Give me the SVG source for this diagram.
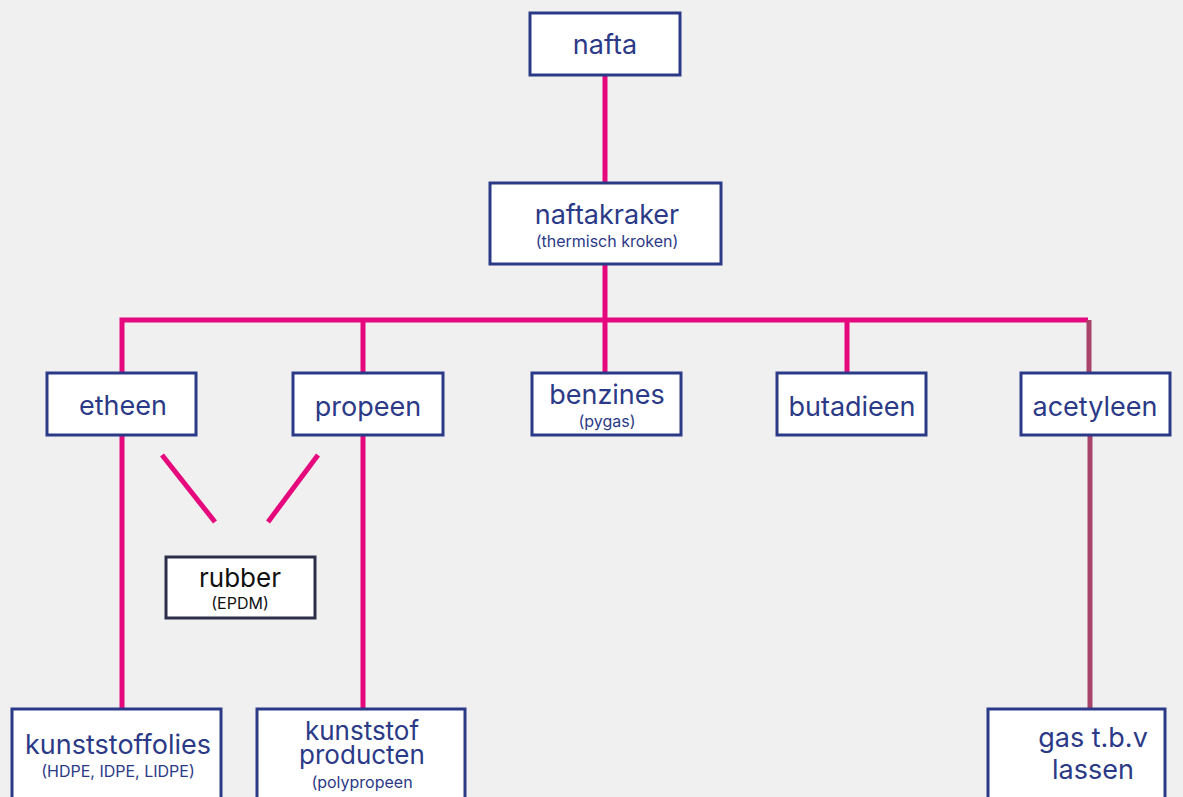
<svg xmlns="http://www.w3.org/2000/svg" width="1183" height="797" viewBox="0 0 1183 797">
<style>
.bx{fill:#fff;stroke:#2b3a87;stroke-width:3}
.bk{fill:#fff;stroke:#2c2e4a;stroke-width:3}
.t{font-family:Inter,"Liberation Sans",sans-serif;fill:#2b3a87;text-anchor:middle;font-size:27px}
.s{font-family:Inter,"Liberation Sans",sans-serif;fill:#2b3a87;text-anchor:middle;font-size:16px}
.p{stroke:#e6097e;stroke-width:5;fill:none}
.m{stroke:#a8446c;stroke-width:5;fill:none}
</style>
<rect width="1183" height="797" fill="#f0f0f0"/>
<g id="connectors">
<line class="p" x1="605" y1="75" x2="605" y2="183"/>
<line class="p" x1="605" y1="264" x2="605" y2="373"/>
<polyline class="p" points="122,373 122,320 1088,320"/>
<line class="p" x1="363" y1="320" x2="363" y2="373"/>
<line class="p" x1="847" y1="320" x2="847" y2="373"/>
<line class="m" x1="1089" y1="320" x2="1089" y2="373"/>
<line class="p" x1="122" y1="435" x2="122" y2="709"/>
<line class="p" x1="363" y1="435" x2="363" y2="709"/>
<line class="m" x1="1090" y1="435" x2="1090" y2="709"/>
<line class="p" x1="162" y1="455" x2="215" y2="522"/>
<line class="p" x1="318" y1="455" x2="268" y2="522"/>
</g>
<g id="nafta"><rect class="bx" x="530" y="13" width="150" height="62"/><text class="t" x="605" y="54">nafta</text></g>
<g id="naftakraker"><rect class="bx" x="490" y="183" width="231" height="81"/><text class="t" x="607" y="224">naftakraker</text><text class="s" x="607" y="247">(thermisch kroken)</text></g>
<g id="etheen"><rect class="bx" x="47" y="373" width="149" height="62"/><text class="t" x="123" y="415">etheen</text></g>
<g id="propeen"><rect class="bx" x="293" y="373" width="150" height="62"/><text class="t" x="368" y="416">propeen</text></g>
<g id="benzines"><rect class="bx" x="532" y="373" width="149" height="62"/><text class="t" x="607" y="404">benzines</text><text class="s" x="607" y="427">(pygas)</text></g>
<g id="butadieen"><rect class="bx" x="777" y="373" width="149" height="62"/><text class="t" x="852" y="416">butadieen</text></g>
<g id="acetyleen"><rect class="bx" x="1021" y="373" width="149" height="62"/><text class="t" x="1095" y="416">acetyleen</text></g>
<g id="rubber"><rect class="bk" x="166" y="557" width="149" height="61"/><text class="t" x="240" y="587" style="fill:#111;font-size:26px">rubber</text><text class="s" x="240" y="609" style="fill:#111">(EPDM)</text></g>
<g id="kunststoffolies"><rect class="bx" x="12" y="709" width="209" height="100"/><text class="t" x="118" y="754">kunststoffolies</text><text class="s" x="118" y="777">(HDPE, IDPE, LIDPE)</text></g>
<g id="kunststofproducten"><rect class="bx" x="257" y="709" width="208" height="100"/><text class="t" x="362" y="740" style="font-size:26px">kunststof</text><text class="t" x="362" y="764" style="font-size:26px">producten</text><text class="s" x="362" y="788">(polypropeen</text></g>
<g id="gas"><rect class="bx" x="988" y="709" width="177" height="100"/><text class="t" x="1093" y="747">gas t.b.v</text><text class="t" x="1093" y="779">lassen</text></g>
</svg>
